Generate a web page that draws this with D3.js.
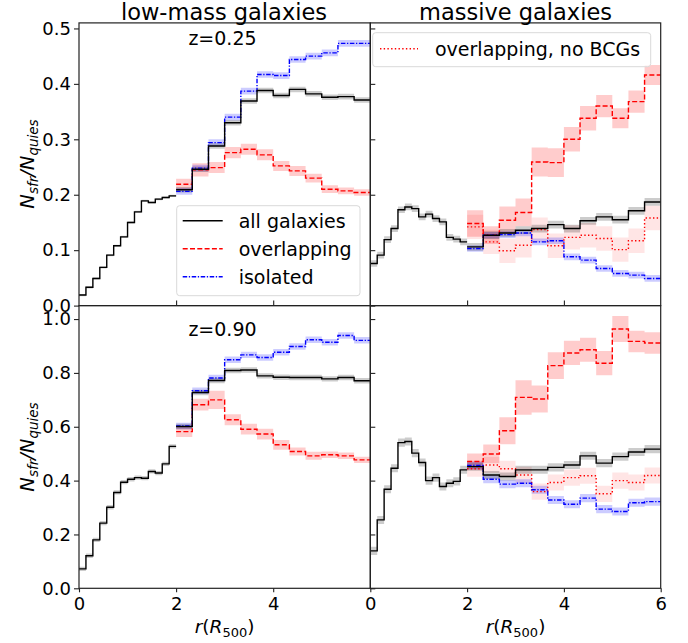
<!DOCTYPE html>
<html>
<head>
<meta charset="utf-8">
<script src="https://cdn.jsdelivr.net/npm/d3@7"></script>
<style>
  body { margin: 0; background: #fff; }
  svg { font-family: "DejaVu Sans", sans-serif; }
</style>
</head>
<body>
<script>
// bin edges: 14 bins inside 2 R500, 12 bins from 2 to 6
var innerEdges = d3.range(15).map(i => i / 7);
var outerEdges = d3.range(13).map(i => 2 + i / 3);

var titles = ["low-mass galaxies", "massive galaxies"];
var zLabels = ["z=0.25", "z=0.90"];
var topTicks = [0, 0.1, 0.2, 0.3, 0.4, 0.5];
var bottomTicks = [0, 0.2, 0.4, 0.6, 0.8, 1.0];

// low-mass, z=0.25
var lm25AllIn = [0.019, 0.033, 0.049, 0.069, 0.091, 0.108, 0.124, 0.150, 0.169, 0.189, 0.186, 0.192, 0.195, 0.198];
var lm25AllOut = [0.209, 0.246, 0.288, 0.330, 0.369, 0.388, 0.379, 0.390, 0.382, 0.376, 0.377, 0.371];
var lm25Iso = [0.206, 0.248, 0.294, 0.340, 0.387, 0.417, 0.415, 0.444, 0.450, 0.456, 0.473, 0.473];
var lm25Ovl = [0.219, 0.245, 0.249, 0.276, 0.282, 0.272, 0.252, 0.243, 0.230, 0.210, 0.207, 0.204];
var lm25OvlErr = [0.010, 0.012, 0.010, 0.010, 0.010, 0.010, 0.009, 0.009, 0.008, 0.007, 0.006, 0.006];

// massive, z=0.25
var ms25AllIn = [0.076, 0.091, 0.119, 0.139, 0.173, 0.178, 0.175, 0.160, 0.165, 0.157, 0.151, 0.123, 0.120, 0.115];
var ms25AllOut = [0.106, 0.127, 0.131, 0.136, 0.139, 0.146, 0.139, 0.153, 0.160, 0.155, 0.171, 0.187];
var ms25Iso = [0.103, 0.127, 0.128, 0.131, 0.115, 0.117, 0.088, 0.082, 0.067, 0.058, 0.055, 0.049];
var ms25Ovl = [0.148, 0.127, 0.154, 0.168, 0.259, 0.258, 0.300, 0.338, 0.360, 0.338, 0.368, 0.416];
var ms25OvlErr = [0.024, 0.016, 0.025, 0.025, 0.026, 0.026, 0.022, 0.022, 0.020, 0.018, 0.020, 0.018];
var ms25NoBcg = [0.142, 0.115, 0.099, 0.109, 0.137, 0.108, 0.123, 0.127, 0.121, 0.101, 0.117, 0.158];

// low-mass, z=0.90
var lm90AllIn = [0.072, 0.121, 0.180, 0.242, 0.301, 0.356, 0.394, 0.405, 0.411, 0.409, 0.434, 0.428, 0.462, 0.527];
var lm90AllOut = [0.601, 0.727, 0.772, 0.809, 0.811, 0.789, 0.784, 0.783, 0.783, 0.778, 0.783, 0.771];
var lm90Iso = [0.603, 0.734, 0.781, 0.849, 0.867, 0.857, 0.877, 0.898, 0.923, 0.914, 0.939, 0.921];
var lm90Ovl = [0.582, 0.682, 0.700, 0.626, 0.591, 0.573, 0.533, 0.508, 0.492, 0.496, 0.492, 0.477];
var lm90OvlErr = [0.020, 0.022, 0.034, 0.020, 0.020, 0.020, 0.018, 0.015, 0.015, 0.012, 0.012, 0.012];

// massive, z=0.90
var ms90AllIn = [0.139, 0.254, 0.368, 0.446, 0.541, 0.545, 0.502, 0.467, 0.400, 0.411, 0.378, 0.390, 0.397, 0.440];
var ms90AllOut = [0.452, 0.421, 0.415, 0.440, 0.440, 0.449, 0.458, 0.492, 0.465, 0.489, 0.506, 0.517];
var ms90Iso = [0.456, 0.405, 0.387, 0.390, 0.366, 0.328, 0.312, 0.335, 0.294, 0.285, 0.318, 0.322];
var ms90Ovl = [0.471, 0.499, 0.585, 0.709, 0.703, 0.827, 0.874, 0.886, 0.836, 0.963, 0.917, 0.911];
var ms90OvlErr = [0.030, 0.035, 0.050, 0.064, 0.050, 0.050, 0.045, 0.045, 0.045, 0.048, 0.040, 0.040];
var ms90NoBcg = [0.444, 0.458, 0.444, 0.421, 0.359, 0.393, 0.411, 0.418, 0.351, 0.400, 0.393, 0.419];

var svg = d3.select("body").append("svg")
  .attr("width", 688)
  .attr("height", 643);

// panel geometry
var xLeft = d3.scaleLinear().domain([0, 6]).range([79, 370.3]);
var xRight = d3.scaleLinear().domain([0, 6]).range([370.3, 660.7]);
var yTop = d3.scaleLinear().domain([0, 0.51]).range([305.6, 22.9]);
var yBot = d3.scaleLinear().domain([0, 1.05]).range([588.3, 305.6]);

function constErr(vals, e) { return vals.map(() => e); }

// every series: [values, errors, edges, colour, dash, band opacity]
var panels = [
  { x: xLeft, y: yTop, series: [
    [lm25AllIn, constErr(lm25AllIn, 0.002), innerEdges, "#000", null, 0.2],
    [lm25Ovl, lm25OvlErr, outerEdges, "#ff0000", "5,2.3", 0.2],
    [lm25Iso, constErr(lm25Iso, 0.006), outerEdges, "#0000ff", "4.5,1.6,1.3,1.6", 0.2],
    [lm25AllOut, constErr(lm25AllOut, 0.005), outerEdges, "#000", null, 0.2]
  ]},
  { x: xRight, y: yTop, series: [
    [ms25AllIn, constErr(ms25AllIn, 0.006), innerEdges, "#000", null, 0.2],
    [ms25NoBcg, constErr(ms25NoBcg, 0.022), outerEdges, "#ff0000", "1.4,2.3", 0.1],
    [ms25Ovl, ms25OvlErr, outerEdges, "#ff0000", "5,2.3", 0.2],
    [ms25Iso, constErr(ms25Iso, 0.006), outerEdges, "#0000ff", "4.5,1.6,1.3,1.6", 0.2],
    [ms25AllOut, constErr(ms25AllOut, 0.007), outerEdges, "#000", null, 0.2]
  ]},
  { x: xLeft, y: yBot, series: [
    [lm90AllIn, constErr(lm90AllIn, 0.008), innerEdges, "#000", null, 0.2],
    [lm90Ovl, lm90OvlErr, outerEdges, "#ff0000", "5,2.3", 0.2],
    [lm90Iso, constErr(lm90Iso, 0.012), outerEdges, "#0000ff", "4.5,1.6,1.3,1.6", 0.2],
    [lm90AllOut, constErr(lm90AllOut, 0.010), outerEdges, "#000", null, 0.2]
  ]},
  { x: xRight, y: yBot, series: [
    [ms90AllIn, constErr(ms90AllIn, 0.015), innerEdges, "#000", null, 0.2],
    [ms90NoBcg, constErr(ms90NoBcg, 0.030), outerEdges, "#ff0000", "1.4,2.3", 0.1],
    [ms90Ovl, ms90OvlErr, outerEdges, "#ff0000", "5,2.3", 0.2],
    [ms90Iso, constErr(ms90Iso, 0.015), outerEdges, "#0000ff", "4.5,1.6,1.3,1.6", 0.2],
    [ms90AllOut, constErr(ms90AllOut, 0.015), outerEdges, "#000", null, 0.2]
  ]}
];

// turn bin values into step points (last value repeated at the outer edge)
function stepPoints(vals, errs, edges) {
  var pts = vals.map((v, i) => ({ x: edges[i], v: v, e: errs[i] }));
  pts.push({ x: edges[vals.length], v: vals[vals.length - 1], e: errs[vals.length - 1] });
  return pts;
}

panels.forEach(function(p) {
  var g = svg.append("g");
  var line = d3.line().curve(d3.curveStepAfter)
    .x(d => p.x(d.x)).y(d => p.y(d.v));
  var band = d3.area().curve(d3.curveStepAfter)
    .x(d => p.x(d.x)).y0(d => p.y(d.v - d.e)).y1(d => p.y(d.v + d.e));

  // bands first, then lines on top
  p.series.forEach(function(s) {
    g.append("path")
      .datum(stepPoints(s[0], s[1], s[2]))
      .attr("d", band)
      .attr("fill", s[3])
      .attr("opacity", s[5])
      .attr("stroke", "none");
  });
  p.series.forEach(function(s) {
    g.append("path")
      .datum(stepPoints(s[0], s[1], s[2]))
      .attr("d", line)
      .attr("fill", "none")
      .attr("stroke", s[3])
      .attr("stroke-width", 1.4)
      .attr("stroke-dasharray", s[4]);
  });
});

// axes
function styleAxis(sel, size) {
  sel.select(".domain").remove();
  sel.selectAll(".tick line").attr("stroke", "#222").attr("stroke-width", 1.1);
  sel.selectAll(".tick text")
    .attr("font-size", size)
    .attr("font-family", "DejaVu Sans")
    .attr("fill", "#000");
}

// y axes with labels on the left panels
svg.append("g").attr("transform", "translate(79,0)")
  .call(d3.axisLeft(yTop).tickValues(topTicks).tickFormat(d3.format(".1f")).tickSize(5).tickPadding(3))
  .call(styleAxis, 18);
svg.append("g").attr("transform", "translate(79,0)")
  .call(d3.axisLeft(yBot).tickValues(bottomTicks).tickFormat(d3.format(".1f")).tickSize(5).tickPadding(3))
  .call(styleAxis, 18);

// right panels: tick marks only
svg.append("g").attr("transform", "translate(370.3,0)")
  .call(d3.axisRight(yTop).tickValues(topTicks).tickFormat("").tickSize(5))
  .call(styleAxis, 18);
svg.append("g").attr("transform", "translate(370.3,0)")
  .call(d3.axisRight(yBot).tickValues(bottomTicks).tickFormat("").tickSize(5))
  .call(styleAxis, 18);

// x ticks between the rows (no labels)
[xLeft, xRight].forEach(function(xs) {
  svg.append("g").attr("transform", "translate(0,305.6)")
    .call(d3.axisTop(xs).tickValues([2, 4]).tickFormat("").tickSize(5))
    .call(styleAxis, 18);
});

// bottom x axes
svg.append("g").attr("transform", "translate(0,588.3)")
  .call(d3.axisBottom(xLeft).tickValues([0, 2, 4]).tickFormat(d3.format("d")).tickSize(4).tickPadding(5))
  .call(styleAxis, 18);
svg.append("g").attr("transform", "translate(0,588.3)")
  .call(d3.axisBottom(xRight).tickValues([0, 2, 4, 6]).tickFormat(d3.format("d")).tickSize(4).tickPadding(5))
  .call(styleAxis, 18);

// frames
[[xLeft, yTop], [xRight, yTop], [xLeft, yBot], [xRight, yBot]].forEach(function(f) {
  var x0 = f[0].range()[0], x1 = f[0].range()[1];
  var y0 = f[1].range()[1], y1 = f[1].range()[0];
  svg.append("rect")
    .attr("x", x0).attr("y", y0)
    .attr("width", x1 - x0).attr("height", y1 - y0)
    .attr("fill", "none")
    .attr("stroke", "#222")
    .attr("stroke-width", 1.2);
});

// column titles
svg.selectAll(".title")
  .data(titles)
  .enter()
  .append("text")
  .attr("class", "title")
  .attr("x", (d, i) => i === 0 ? 224 : 515.5)
  .attr("y", 20)
  .attr("text-anchor", "middle")
  .attr("font-size", 22.5)
  .text(d => d);

// redshift labels
svg.selectAll(".zlab")
  .data(zLabels)
  .enter()
  .append("text")
  .attr("class", "zlab")
  .attr("x", 222.5)
  .attr("y", (d, i) => i === 0 ? 45 : 335.7)
  .attr("text-anchor", "middle")
  .attr("font-size", 19)
  .text(d => d);

// y labels  N_sfr / N_quies
[164, 447].forEach(function(cy) {
  var t = svg.append("text")
    .attr("transform", `translate(34,${cy}) rotate(-90)`)
    .attr("text-anchor", "middle")
    .attr("font-size", 19.5)
    .attr("font-style", "italic");
  t.append("tspan").text("N");
  t.append("tspan").attr("font-size", 13.5).attr("dy", 4).text("sfr");
  t.append("tspan").attr("dy", -4).text("/N");
  t.append("tspan").attr("font-size", 13.5).attr("dy", 4).text("quies");
});

// x labels  r(R_500)
[224.6, 515.5].forEach(function(cx) {
  var t = svg.append("text")
    .attr("x", cx)
    .attr("y", 633)
    .attr("text-anchor", "middle")
    .attr("font-size", 18.5);
  t.append("tspan").attr("font-style", "italic").text("r");
  t.append("tspan").text("(");
  t.append("tspan").attr("font-style", "italic").text("R");
  t.append("tspan").attr("font-size", 13).attr("dy", 4).text("500");
  t.append("tspan").attr("dy", -4).text(")");
});

// legend, lower part of low-mass z=0.25
var legendItems = [
  { label: "all galaxies", color: "#000", dash: null },
  { label: "overlapping", color: "#ff0000", dash: "5,2.3" },
  { label: "isolated", color: "#0000ff", dash: "4.5,1.6,1.3,1.6" }
];
var legend = svg.append("g");
legend.append("rect")
  .attr("x", 176.7).attr("y", 205.7)
  .attr("width", 183.3).attr("height", 90)
  .attr("rx", 3)
  .attr("fill", "#fff").attr("fill-opacity", 0.8)
  .attr("stroke", "#d9d9d9");
legendItems.forEach(function(d, i) {
  var cy = 220.7 + i * 28;
  legend.append("line")
    .attr("x1", 182.7).attr("x2", 222.7)
    .attr("y1", cy).attr("y2", cy)
    .attr("stroke", d.color).attr("stroke-width", 1.4)
    .attr("stroke-dasharray", d.dash);
  legend.append("text")
    .attr("x", 238.7).attr("y", cy + 7)
    .attr("font-size", 19)
    .text(d.label);
});

// legend, massive z=0.25
var legend2 = svg.append("g");
legend2.append("rect")
  .attr("x", 372.7).attr("y", 32.7)
  .attr("width", 278).attr("height", 34)
  .attr("rx", 3)
  .attr("fill", "#fff").attr("fill-opacity", 0.8)
  .attr("stroke", "#d9d9d9");
legend2.append("line")
  .attr("x1", 380).attr("x2", 418)
  .attr("y1", 48.7).attr("y2", 48.7)
  .attr("stroke", "#ff0000").attr("stroke-width", 1.4)
  .attr("stroke-dasharray", "1.4,2.3");
legend2.append("text")
  .attr("x", 435).attr("y", 55.5)
  .attr("font-size", 19)
  .text("overlapping, no BCGs");
</script>
</body>
</html>
